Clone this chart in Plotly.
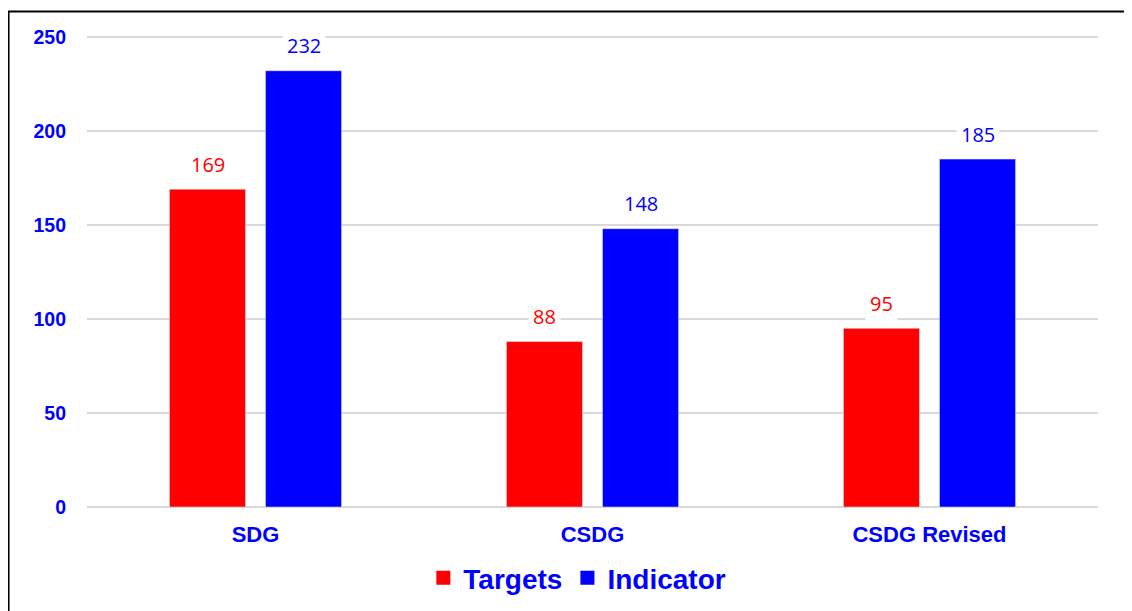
import plotly.graph_objects as go

categories = ["SDG", "CSDG", "CSDG Revised"]
targets = [169, 88, 95]
indicator = [232, 148, 185]
y_ticks = [0, 50, 100, 150, 200, 250]
series_names = ["Targets", "Indicator"]

RED = "#FF0000"
BLUE = "#0000FF"

fig = go.Figure()
fig.add_trace(go.Bar(name=series_names[0], x=categories, y=targets, marker_color=RED, showlegend=False))
fig.add_trace(go.Bar(name=series_names[1], x=categories, y=indicator, marker_color=BLUE, showlegend=False))
# legend entries with square swatches
for name, col in zip(series_names, (RED, BLUE)):
    fig.add_trace(go.Scatter(name=name, x=[None], y=[None], mode="markers",
                             marker=dict(symbol="square", size=14, color=col)))

annotations = []
for cat, t, ind in zip(categories, targets, indicator):
    for val, col, shift in ((t, RED, -48), (ind, BLUE, 48)):
        annotations.append(dict(
            x=cat, y=val, xref="x", yref="y", text=str(val), showarrow=False,
            xshift=shift, yshift=25, yanchor="middle",
            font=dict(family="Open Sans", size=20, color=col),
            bgcolor="white", borderpad=4,
        ))

fig.update_layout(
    width=1124, height=609,
    margin=dict(l=79, r=34, t=27.1, b=110),
    paper_bgcolor="white", plot_bgcolor="white",
    barmode="group", bargap=0.43, bargroupgap=0.208,
    annotations=annotations,
    legend=dict(orientation="h", x=0.485, xanchor="center", y=-0.1505, yanchor="middle",
                font=dict(family="Liberation Sans", size=28, color=BLUE, weight="bold"),
                itemwidth=30, itemsizing="trace", traceorder="normal"),
    xaxis=dict(
        tickfont=dict(family="Liberation Sans", size=22, color=BLUE, weight="bold"),
        showgrid=False, showline=False, ticks="", ticklabelstandoff=12,
    ),
    yaxis=dict(
        range=[0, 251], tickvals=y_ticks,
        tickfont=dict(family="Liberation Sans", size=19.5, color=BLUE, weight="bold"),
        showgrid=True, gridcolor="#d9d9d9", gridwidth=1.5,
        zeroline=True, zerolinecolor="#d9d9d9", zerolinewidth=2,
        showline=False, ticks="", ticklabelstandoff=20,
    ),
    shapes=[dict(type="rect", xref="paper", yref="paper",
                 x0=-0.0776, x1=1.06, y0=-0.35, y1=1.050,
                 line=dict(color="black", width=2), fillcolor="rgba(0,0,0,0)", layer="above")],
)

fig.write_html("out.html")
